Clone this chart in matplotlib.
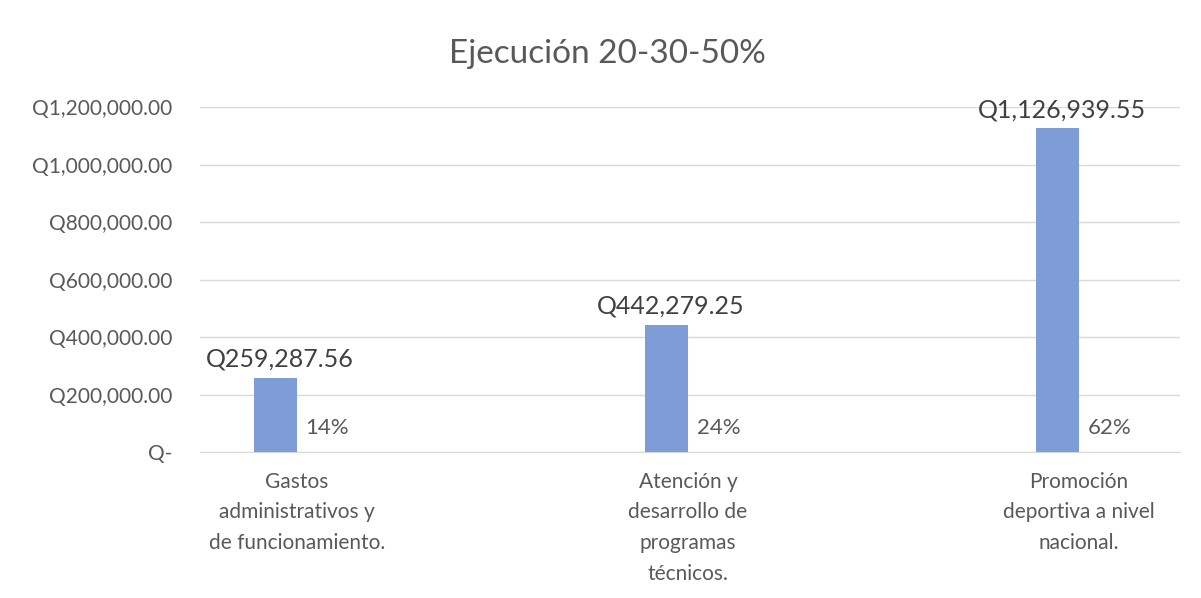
import matplotlib.pyplot as plt
import numpy as np
from matplotlib.ticker import FuncFormatter

# Datos del gráfico
categorias = ["Gastos\nadministrativos y\nde funcionamiento.",
              "Atención y\ndesarrollo de\nprogramas\ntécnicos.",
              "Promoción\ndeportiva a nivel\nnacional."]
montos = [259287.56, 442279.25, 1126939.55]
porcentajes = [14, 24, 62]

plt.rcParams['font.family'] = ['Lato', 'DejaVu Sans']

gris = '#595959'
fig = plt.figure(figsize=(12.01, 5.98), dpi=100)
ax = fig.add_axes([0.1665, 0.244, 0.816, 0.577])

x = np.arange(len(categorias))
desp = 0.054  # desplazamiento de la barra respecto al centro de la categoría
barras = ax.bar(x - desp, montos, width=0.11, color='#7E9DD6', zorder=3)

# Etiquetas de valor sobre cada barra
for xi, m in zip(x, montos):
    ax.annotate(f"Q{m:,.2f}", (xi - desp, m), xytext=(3, 5), textcoords='offset points',
                ha='center', va='bottom', fontsize=18, color='#404040')

# Etiquetas de porcentaje a la derecha de cada barra
for xi, p in zip(x, porcentajes):
    ax.annotate(f"{p}%", (xi + 0.078, 0), xytext=(0, 17), textcoords='offset points',
                ha='center', va='center', fontsize=16, color=gris)

def formato_q(v, pos):
    if v == 0:
        return "Q-"
    return f"Q{v:,.2f}"

ax.set_ylim(0, 1200000)
ax.set_yticks(np.arange(0, 1200001, 200000))
ax.yaxis.set_major_formatter(FuncFormatter(formato_q))
ax.set_xlim(-0.248, 2.258)
ax.set_xticks(x)
ax.set_xticklabels(categorias, fontsize=15, color=gris, linespacing=1.68, va='top')

ax.tick_params(axis='y', length=0, pad=20, labelsize=15, labelcolor=gris)
ax.tick_params(axis='x', length=0, pad=14)
ax.grid(axis='y', color='#d9d9d9', linewidth=1, zorder=0)
for lado in ['top', 'right', 'left']:
    ax.spines[lado].set_visible(False)
ax.spines['bottom'].set_color('#d9d9d9')

fig.text(0.506, 0.91, "Ejecución 20-30-50%", ha='center', va='center', fontsize=24, color=gris)

plt.savefig('out.png', dpi=100)
